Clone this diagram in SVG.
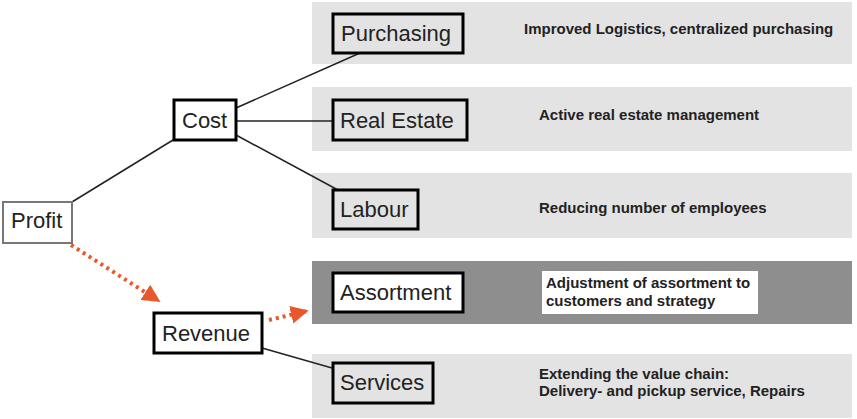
<svg xmlns="http://www.w3.org/2000/svg" width="857" height="419" viewBox="0 0 857 419">
<style>
.band{fill:#e3e3e3}
.dark{fill:#8e8e8e}
.box{fill:none;stroke:#000;stroke-width:3}
.wbox{fill:#fff;stroke:#000;stroke-width:3}
.lbl{font-family:"Liberation Sans",Arial,sans-serif;font-size:22px;fill:#222}
.desc{font-family:"Liberation Sans",Arial,sans-serif;font-size:15px;font-weight:bold;fill:#222}
.ln{stroke:#222;stroke-width:1.5;fill:none}
.dot{stroke:#e8582a;stroke-width:4;stroke-dasharray:3 4;fill:none}
</style>
<defs>
<marker id="ah" viewBox="0 0 10 10" refX="9" refY="5" markerWidth="4.5" markerHeight="4.5" orient="auto" markerUnits="strokeWidth">
<path d="M0,0 L10,5 L0,10 z" fill="#e8582a"/>
</marker>
</defs>
<rect class="band" x="312" y="2" width="540" height="62"/>
<rect class="band" x="312" y="87" width="540" height="64"/>
<rect class="band" x="312" y="173" width="540" height="65"/>
<rect class="dark" x="312" y="261" width="540" height="63"/>
<rect class="band" x="312" y="354" width="540" height="64"/>
<g id="connectors">
<line class="ln" x1="72" y1="202" x2="173" y2="140"/>
<line class="ln" x1="236" y1="108" x2="360" y2="53"/>
<line class="ln" x1="236" y1="121" x2="332" y2="121"/>
<line class="ln" x1="236" y1="135" x2="338" y2="190"/>
<line class="ln" x1="262" y1="348" x2="332" y2="368"/>
<line class="dot" x1="71" y1="245" x2="159" y2="301" marker-end="url(#ah)"/>
<line class="dot" x1="269" y1="320" x2="307" y2="311" marker-end="url(#ah)"/>
</g>
<g id="profit"><rect x="3" y="202" width="69" height="41" fill="#fff" stroke="#777" stroke-width="2"/><text class="lbl" x="11" y="228">Profit</text></g>
<g id="cost"><rect class="wbox" x="174" y="100" width="62" height="40"/><text class="lbl" x="182" y="128">Cost</text></g>
<g id="revenue"><rect class="wbox" x="154" y="313" width="108" height="40"/><text class="lbl" x="162" y="341">Revenue</text></g>
<g id="purchasing"><rect class="box" x="333" y="14" width="130" height="39"/><text class="lbl" x="341" y="41">Purchasing</text><text class="desc" x="524" y="34">Improved Logistics, centralized purchasing</text></g>
<g id="realestate"><rect class="box" x="333" y="100" width="134" height="40"/><text class="lbl" x="340" y="128">Real Estate</text><text class="desc" x="539" y="120">Active real estate management</text></g>
<g id="labour"><rect class="box" x="333" y="190" width="85" height="39"/><text class="lbl" x="340" y="217">Labour</text><text class="desc" x="539" y="213">Reducing number of employees</text></g>
<g id="assortment"><rect class="wbox" x="333" y="273" width="130" height="39"/><text class="lbl" x="340" y="300">Assortment</text><rect x="542" y="271" width="216" height="43" fill="#fff"/><text class="desc" x="546" y="288">Adjustment of assortment to</text><text class="desc" x="546" y="306">customers and strategy</text></g>
<g id="services"><rect class="box" x="333" y="363" width="100" height="40"/><text class="lbl" x="340" y="390">Services</text><text class="desc" x="539" y="379">Extending the value chain:</text><text class="desc" x="539" y="396">Delivery- and pickup service, Repairs</text></g>
</svg>
